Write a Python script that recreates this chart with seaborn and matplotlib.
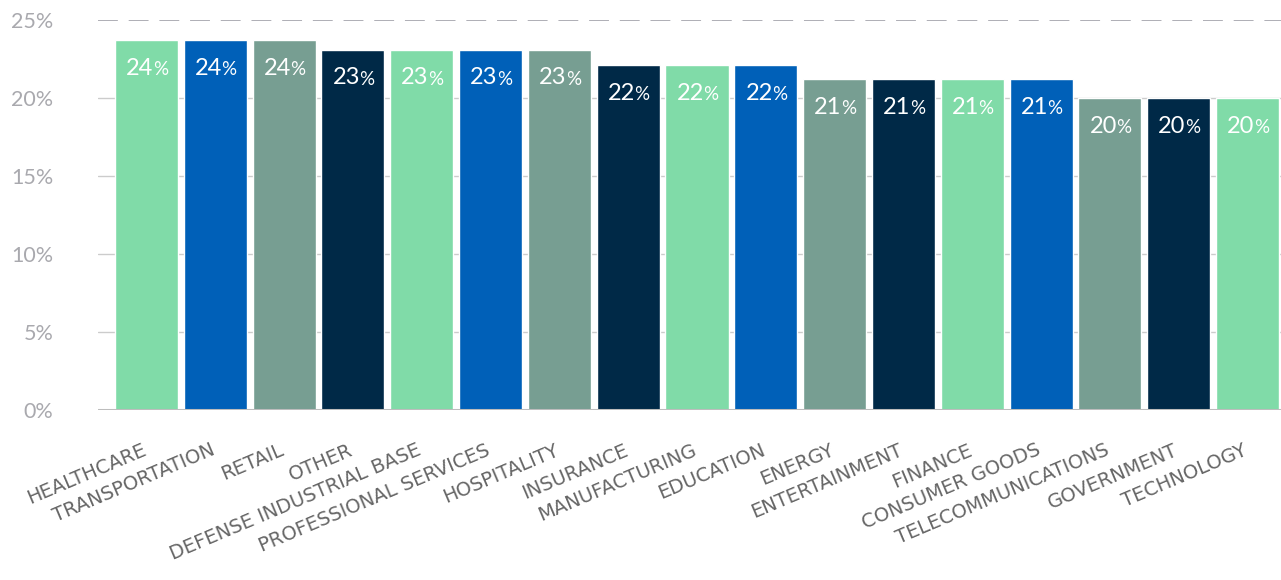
import matplotlib
matplotlib.use("Agg")
import matplotlib.pyplot as plt
import matplotlib.transforms as mtransforms
import seaborn as sns
import pandas as pd
from matplotlib.ticker import FixedLocator

industries = [
    "HEALTHCARE", "TRANSPORTATION", "RETAIL", "OTHER", "DEFENSE INDUSTRIAL BASE",
    "PROFESSIONAL SERVICES", "HOSPITALITY", "INSURANCE", "MANUFACTURING", "EDUCATION",
    "ENERGY", "ENTERTAINMENT", "FINANCE", "CONSUMER GOODS", "TELECOMMUNICATIONS",
    "GOVERNMENT", "TECHNOLOGY",
]
shares = [23.7, 23.7, 23.7, 23.1, 23.1, 23.1, 23.1, 22.1, 22.1, 22.1,
          21.2, 21.2, 21.2, 21.2, 20.0, 20.0, 20.0]
palette_cycle = ["#80DBA8", "#0060B8", "#779E92", "#002947"]
y_ticks = [0, 5, 10, 15, 20, 25]

df = pd.DataFrame({"industry": industries, "share": shares})
colors = [palette_cycle[i % 4] for i in range(len(industries))]

sns.set_theme(style="white")
plt.rcParams["font.family"] = ["Lato", "DejaVu Sans"]

fig = plt.figure(figsize=(12.81, 5.8), dpi=100)
ax = fig.add_axes([98 / 1281, 1 - 410 / 580, (1281 - 98) / 1281, 390 / 580])

sns.barplot(data=df, x="industry", y="share", hue="industry", palette=colors,
            dodge=False, legend=False, width=0.916, saturation=1, ax=ax, zorder=3)

ax.set_ylim(0, 25)
ax.set_xlim(-0.705, len(industries) - 1 + 0.487)

# Horizontal guides: solid for inner ticks, dashed at the top
for t in y_ticks[1:-1]:
    ax.axhline(t, color="#cccccc", lw=1.0, zorder=1)
ax.axhline(25, color="#a8a8b0", lw=1.3, ls=(0, (11, 6)), zorder=1)
ax.axhline(0, color="#bdbdbd", lw=2.2, zorder=4)

for s in ax.spines.values():
    s.set_visible(False)

ax.yaxis.set_major_locator(FixedLocator(y_ticks))
ax.set_yticklabels([f"{t}%" for t in y_ticks])
ax.tick_params(axis="y", length=0, pad=32, labelsize=15.5, labelcolor="#a9a9ae")
ax.tick_params(axis="x", length=0, pad=22, labelcolor="#666666")
ax.set_xticks(range(len(industries)))
ax.set_xticklabels(industries, rotation=23, ha="right", va="top",
                   rotation_mode="anchor", fontsize=14,
                   family=["DejaVu Sans"])
shift = mtransforms.ScaledTranslation(-5 / 100, 0, fig.dpi_scale_trans)
for lbl in ax.get_xticklabels():
    lbl.set_transform(lbl.get_transform() + shift)
ax.set_xlabel("")
ax.set_ylabel("")

# Value labels inside the top of each bar, with a smaller percent sign
for i, v in enumerate(shares):
    y_txt = v - 1.8
    ax.annotate(f"{v:.0f}", xy=(i, y_txt), xytext=(5, 0), textcoords="offset points",
                ha="right", va="center", color="white", fontsize=17, zorder=5)
    ax.annotate("%", xy=(i, y_txt), xytext=(4.5, -1), textcoords="offset points",
                ha="left", va="center", color="white", fontsize=13.5, zorder=5)

fig.savefig("out.png", dpi=100)
